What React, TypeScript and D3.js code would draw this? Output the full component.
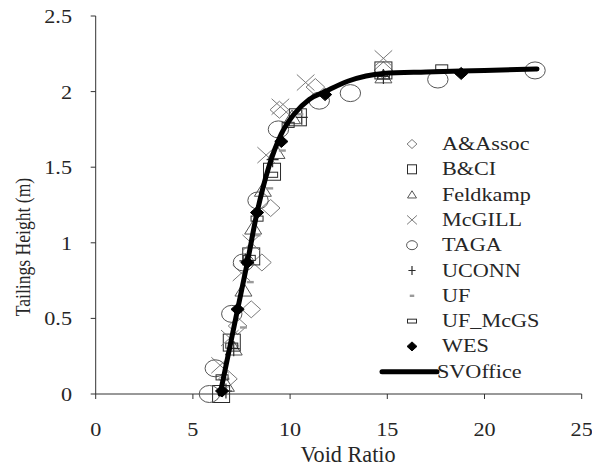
import React from "react";
import * as d3 from "d3";

const xTicks = [0, 5, 10, 15, 20, 25];
const yTicks = [0, 0.5, 1, 1.5, 2, 2.5];
const yTickLabels = ["0", "0.5", "1", "1.5", "2", "2.5"];

const aAssoc: [number, number][] = [[6.8, 0.1], [7.3, 0.45], [8.0, 0.56], [8.55, 0.87], [9.0, 1.23], [9.45, 1.88], [11.3, 2.03], [14.8, 2.14]];
const bci: [number, number][] = [[6.45, 0], [7.0, 0.34], [8.0, 0.91], [9.07, 1.47], [10.4, 1.83], [14.8, 2.14]];
const feldkamp: [number, number][] = [[6.7, 0.06], [7.1, 0.3], [7.6, 0.69], [8.1, 1.1], [8.6, 1.35], [9.3, 1.6], [10.1, 1.83], [14.8, 2.1]];
const mcgill: [number, number][] = [[6.4, 0.19], [6.9, 0.37], [7.5, 0.8], [8.0, 1.0], [8.77, 1.58], [9.5, 1.9], [10.8, 2.06], [14.8, 2.22]];
const taga: [number, number][] = [[5.85, 0], [6.15, 0.17], [7.0, 0.53], [7.6, 0.87], [8.35, 1.28], [9.4, 1.75], [11.5, 1.94], [13.1, 1.99], [17.6, 2.08], [22.6, 2.14]];
const uconn: [number, number][] = [[6.7, 0.02], [7.1, 0.3], [7.7, 0.88], [8.3, 1.2], [9.1, 1.55], [10.6, 1.83], [14.8, 2.1]];
const uf: [number, number][] = [[6.7, 0.1], [7.6, 0.44], [7.95, 0.74], [8.3, 1.05], [8.95, 1.36], [9.6, 1.61], [10.5, 1.85]];
const ufMcgs: [number, number][] = [[6.5, 0.11], [7.0, 0.32], [7.9, 0.9], [8.3, 1.16], [9.05, 1.45], [9.9, 1.78], [14.8, 2.1], [17.8, 2.16]];
const wes: [number, number][] = [[6.5, 0.02], [7.3, 0.56], [7.8, 0.87], [8.3, 1.2], [9.55, 1.67], [11.8, 1.98], [18.8, 2.12]];
const svOffice: [number, number][] = [[6.4, 0], [7.3, 0.56], [7.8, 0.87], [8.3, 1.2], [8.9, 1.5], [9.55, 1.72], [10.2, 1.85], [11, 1.95], [11.8, 2.0], [13, 2.07], [14.8, 2.12], [17, 2.13], [20, 2.14], [22.7, 2.15]];

const seriesNames = ["A&Assoc", "B&CI", "Feldkamp", "McGILL", "TAGA", "UCONN", "UF", "UF_McGS", "WES", "SVOffice"];

const W = 592, H = 466;
const x = d3.scaleLinear().domain([0, 25]).range([95.7, 581.7]);
const y = d3.scaleLinear().domain([0, 2.5]).range([394, 16]);

const FONT = "'Liberation Serif', 'Times New Roman', serif";
const FS = 18.5;
const SX = 1.2;
const TXT = "#262626";

type Kind = "diamond" | "square" | "triangle" | "x" | "circle" | "plus" | "dash" | "rect" | "fdiamond";

function Marker({ kind, cx, cy, s }: { kind: Kind; cx: number; cy: number; s: number }) {
  const h = s / 2;
  const t = `translate(${cx},${cy})`;
  const grey = "#7a7a7a";
  const dark = "#2a2a2a";
  switch (kind) {
    case "diamond":
      return <path transform={t} d={`M0,${-h}L${h * 1.1},0L0,${h}L${-h * 1.1},0Z`} fill="none" stroke={grey} strokeWidth={1} />;
    case "square":
      return <rect transform={t} x={-h} y={-h} width={s} height={s} fill="none" stroke={dark} strokeWidth={1} />;
    case "triangle":
      return <path transform={t} d={`M0,${-h * 0.85}L${h},${h * 0.75}L${-h},${h * 0.75}Z`} fill="none" stroke={"#555"} strokeWidth={1} />;
    case "x":
      return <path transform={t} d={`M${-h * 1.1},${-h}L${h * 1.1},${h}M${-h * 1.1},${h}L${h * 1.1},${-h}`} fill="none" stroke={grey} strokeWidth={1} />;
    case "circle":
      return <ellipse transform={t} rx={h * 1.2} ry={h} fill="none" stroke={"#555"} strokeWidth={1} />;
    case "plus":
      return <path transform={t} d={`M${-h * 0.8},0L${h * 0.8},0M0,${-h}L0,${h}`} fill="none" stroke={dark} strokeWidth={1.2} />;
    case "dash":
      return <rect transform={t} x={-s * 0.25} y={-1.2} width={s * 0.5} height={2.4} fill="#9a9a9a" />;
    case "rect":
      return <rect transform={t} x={-h * 0.75} y={-s * 0.16} width={s * 0.75} height={s * 0.32} fill="none" stroke={dark} strokeWidth={1} />;
    case "fdiamond":
      return <path transform={t} d={`M0,${-h}L${h * 1.1},0L0,${h}L${-h * 1.1},0Z`} fill="#000" stroke="#000" />;
  }
}

const plotSeries: { data: [number, number][]; kind: Kind; size: number }[] = [
  { data: aAssoc, kind: "diamond", size: 17 },
  { data: bci, kind: "square", size: 17 },
  { data: feldkamp, kind: "triangle", size: 17 },
  { data: mcgill, kind: "x", size: 16 },
  { data: taga, kind: "circle", size: 17 },
  { data: uconn, kind: "plus", size: 15 },
  { data: uf, kind: "dash", size: 14 },
  { data: ufMcgs, kind: "rect", size: 16 },
  { data: wes, kind: "fdiamond", size: 12 },
];

const legendKinds: Kind[] = ["diamond", "square", "triangle", "x", "circle", "plus", "dash", "rect", "fdiamond"];

function Txt({ x0, y0, anchor, sy = 1, children }: { x0: number; y0: number; anchor: string; sy?: number; children: React.ReactNode }) {
  return (
    <text transform={`translate(${x0},${y0}) scale(${SX},${sy})`} textAnchor={anchor as any} fontFamily={FONT} fontSize={FS} fill={TXT}>
      {children}
    </text>
  );
}

export default function App() {
  const line = d3.line<[number, number]>().x(d => x(d[0])).y(d => y(d[1])).curve(d3.curveMonotoneX);
  const legendY0 = 144;
  const legendDy = 25.3;
  return (
    <svg width={W} height={H} style={{ position: "absolute", left: 0, top: 0, background: "#fff" }}>
      <line x1={x(0)} x2={x(0)} y1={y(2.5)} y2={y(0)} stroke="#333" strokeWidth={1} />
      <line x1={x(0)} x2={x(25)} y1={y(0)} y2={y(0)} stroke="#333" strokeWidth={1} />
      {yTicks.map((t, i) => (
        <g key={"yt" + i}>
          <line x1={x(0) - 5} x2={x(0)} y1={y(t)} y2={y(t)} stroke="#333" />
          <Txt x0={72} y0={y(t) + 7} anchor="end">{yTickLabels[i]}</Txt>
        </g>
      ))}
      {xTicks.map((t, i) => (
        <g key={"xt" + i}>
          <line x1={x(t)} x2={x(t)} y1={y(0)} y2={y(0) + 5} stroke="#333" />
          <Txt x0={x(t)} y0={436} anchor="middle">{String(t)}</Txt>
        </g>
      ))}
      <Txt x0={348} y0={462} anchor="middle" sy={1.25}>Void Ratio</Txt>
      <text transform={`translate(30,247) scale(${SX},1) rotate(-90)`} textAnchor="middle" fontFamily={FONT} fontSize={17.6} fill={TXT}>
        Tailings Height (m)
      </text>
      {plotSeries.map((s, si) => (
        <g key={"s" + si}>
          {s.data.map((d, i) => (
            <Marker key={i} kind={s.kind} cx={x(d[0])} cy={y(d[1])} s={s.size} />
          ))}
        </g>
      ))}
      <path d={line(svOffice) || ""} fill="none" stroke="#000" strokeWidth={5} strokeLinecap="round" />
      {seriesNames.map((name, i) => {
        const ly = legendY0 + i * legendDy;
        return (
          <g key={"lg" + i}>
            {i < legendKinds.length ? (
              <Marker kind={legendKinds[i]} cx={412} cy={ly} s={legendKinds[i] === "rect" ? 12 : 9} />
            ) : (
              <line x1={382} x2={437} y1={ly} y2={ly} stroke="#000" strokeWidth={5} strokeLinecap="round" />
            )}
            <Txt x0={i < legendKinds.length ? 442 : 437} y0={ly + 6} anchor="start">{name}</Txt>
          </g>
        );
      })}
    </svg>
  );
}
